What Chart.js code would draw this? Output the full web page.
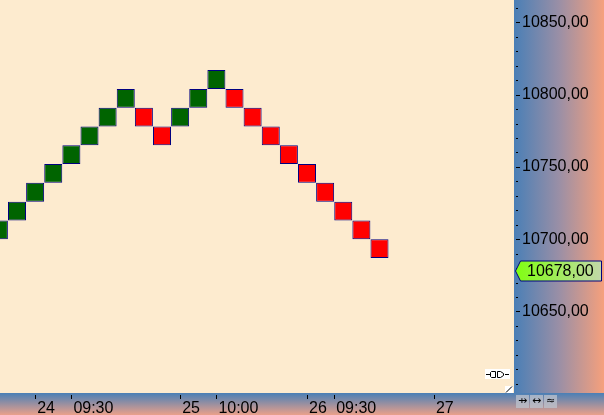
<!DOCTYPE html>
<html lang="pt-BR">
<head>
  <meta charset="UTF-8">
  <title>Renko</title>
  <script src="https://cdn.jsdelivr.net/npm/chart.js"></script>
  <style>
    html, body { margin: 0; padding: 0; background: #fdebcf; }
    .box { width: 604px; height: 415px; position: relative; }
  </style>
</head>
<body>
  <div class="box"><canvas id="renko"></canvas></div>

  <script>
    // tijolos renko (coluna, abertura, fechamento)
    const columns = [1, 2, 3, 4, 5, 6, 7, 8, 9, 10, 11, 12, 13, 14, 15, 16, 17, 18, 19, 20, 21, 22];
    const brickOpen = [10700, 10713, 10726, 10739, 10752, 10765, 10778, 10791, 10791, 10778, 10778,
                       10791, 10804, 10804, 10791, 10778, 10765, 10752, 10739, 10726, 10713, 10700];
    const brickClose = [10713, 10726, 10739, 10752, 10765, 10778, 10791, 10804, 10778, 10765, 10791,
                        10804, 10817, 10791, 10778, 10765, 10752, 10739, 10726, 10713, 10700, 10687];
    const lastPrice = 10678;

    // eixo de tempo
    const timeTickPos = [3, 5, 11, 13, 18, 19.5, 25];
    const timeTickLabels = ['24', '09:30', '25', '10:00', '26', '09:30', '27'];

    // eixo de preço
    const priceMajor = [10650, 10700, 10750, 10800, 10850];
    const priceMinorStep = 10;

    const fmt = v => v.toFixed(2).replace('.', ',');

    const bricks = columns.map((c, i) => ({ x: c, y: [brickOpen[i], brickClose[i]] }));
    const up = i => brickClose[i] > brickOpen[i];

    const noPad = s => { s.paddingLeft = 0; s.paddingRight = 0; s.paddingTop = 0; s.paddingBottom = 0; };

    const background = {
      id: 'background',
      beforeDraw(chart) {
        const { ctx, chartArea: a, width, height } = chart;
        ctx.save();
        ctx.fillStyle = '#fdebcf';
        ctx.fillRect(a.left, a.top, a.right - a.left, a.bottom - a.top);
        let g = ctx.createLinearGradient(a.right, 0, width, 0);
        g.addColorStop(0, '#4a7fb6');
        g.addColorStop(0.5, '#9a8fa6');
        g.addColorStop(1, '#f6a07c');
        ctx.fillStyle = g;
        ctx.fillRect(a.right, 0, width - a.right, a.bottom);
        g = ctx.createLinearGradient(0, a.bottom, 0, height);
        g.addColorStop(0, '#4a7fb6');
        g.addColorStop(1, '#eaa08a');
        ctx.fillStyle = g;
        ctx.fillRect(0, a.bottom, width, height - a.bottom);
        ctx.restore();
      }
    };

    const extras = {
      id: 'extras',
      afterDraw(chart) {
        const { ctx, chartArea: a } = chart;
        const ys = chart.scales.y, xs = chart.scales.x;
        ctx.save();
        ctx.strokeStyle = '#000';
        ctx.lineWidth = 1;
        // marcas do eixo de preço
        ys.ticks.forEach(t => {
          const py = Math.round(ys.getPixelForValue(t.value)) + 0.5;
          const major = priceMajor.includes(t.value);
          ctx.beginPath();
          ctx.moveTo(a.right + 2, py);
          ctx.lineTo(a.right + (major ? 6 : 4), py);
          ctx.stroke();
        });
        // marcas do eixo de tempo
        timeTickPos.forEach(v => {
          const px = Math.round(xs.getPixelForValue(v)) + 0.5;
          ctx.beginPath();
          ctx.moveTo(px, a.bottom + 2);
          ctx.lineTo(px, a.bottom + 6);
          ctx.stroke();
        });

        // etiqueta do último preço
        const py = ys.getPixelForValue(lastPrice);
        const lx = a.right + 1, rx = 601;
        const g = ctx.createLinearGradient(lx, 0, rx, 0);
        g.addColorStop(0, '#80ff10');
        g.addColorStop(1, '#c2d8a8');
        ctx.beginPath();
        ctx.moveTo(lx + 0.5, py);
        ctx.lineTo(lx + 5.5, py - 10);
        ctx.lineTo(rx + 0.5, py - 10);
        ctx.lineTo(rx + 0.5, py + 10);
        ctx.lineTo(lx + 5.5, py + 10);
        ctx.closePath();
        ctx.fillStyle = g;
        ctx.fill();
        ctx.strokeStyle = '#000080';
        ctx.stroke();
        ctx.fillStyle = '#000';
        ctx.font = '16px "Liberation Sans", Arial, sans-serif';
        ctx.textBaseline = 'middle';
        ctx.textAlign = 'left';
        ctx.fillText(fmt(lastPrice), 527, py + 1);

        // ícone de conexão
        ctx.fillStyle = '#fff';
        ctx.fillRect(485, 369, 25, 10);
        ctx.strokeStyle = '#000';
        ctx.beginPath();
        ctx.moveTo(486, 374.5); ctx.lineTo(490, 374.5);
        ctx.moveTo(505, 374.5); ctx.lineTo(509, 374.5);
        ctx.moveTo(495.5, 371.5); ctx.lineTo(491.5, 371.5); ctx.lineTo(490.5, 372.5);
        ctx.lineTo(490.5, 376.5); ctx.lineTo(491.5, 377.5); ctx.lineTo(495.5, 377.5);
        ctx.moveTo(497.5, 371.5); ctx.lineTo(500.5, 371.5); ctx.lineTo(503.5, 373.5);
        ctx.lineTo(503.5, 375.5); ctx.lineTo(500.5, 377.5); ctx.lineTo(497.5, 377.5); ctx.closePath();
        ctx.stroke();
        ctx.beginPath();
        ctx.moveTo(495.5, 371.5); ctx.lineTo(495.5, 377.5);
        ctx.stroke();

        // canto de redimensionar
        ctx.fillStyle = '#fff';
        ctx.fillRect(505, 386, 8, 7);
        ctx.beginPath();
        ctx.moveTo(506, 392.5); ctx.lineTo(512, 386.5);
        ctx.stroke();

        // botões
        const glyphs = ['⇸', '↔', '≈'];
        [516, 530, 544].forEach((bx, i) => {
          ctx.fillStyle = 'rgba(190,195,205,0.75)';
          ctx.fillRect(bx, 395, 13, 13);
          ctx.fillStyle = '#000';
          ctx.font = '11px "DejaVu Sans", sans-serif';
          ctx.textAlign = 'center';
          ctx.textBaseline = 'middle';
          ctx.fillText(glyphs[i], bx + 6.5, 401.5);
        });
        ctx.restore();
      }
    };

    new Chart(document.getElementById('renko'), {
      type: 'bar',
      data: {
        datasets: [{
          data: bricks,
          backgroundColor: ctx => up(ctx.dataIndex) ? '#006400' : '#ff0000',
          borderColor: '#000080',
          borderWidth: 1,
          borderSkipped: false,
          inflateAmount: 0,
          barThickness: 18
        }]
      },
      options: {
        responsive: true,
        maintainAspectRatio: false,
        animation: false,
        layout: { padding: 0 },
        plugins: { legend: { display: false }, tooltip: { enabled: false } },
        scales: {
          x: {
            type: 'linear',
            position: 'bottom',
            offset: false,
            min: 1.062,
            max: 29.42,
            afterFit: s => { s.height = 22; noPad(s); },
            afterBuildTicks: s => { s.ticks = timeTickPos.map(v => ({ value: v })); },
            grid: { display: false, drawTicks: false },
            border: { display: false },
            ticks: {
              autoSkip: false,
              maxRotation: 0,
              align: 'start',
              labelOffset: 2,
              padding: 6,
              color: '#000',
              font: { family: '"Liberation Sans", Arial, sans-serif', size: 16 },
              callback: v => timeTickLabels[timeTickPos.indexOf(v)]
            }
          },
          y: {
            type: 'linear',
            position: 'right',
            min: 10593.6,
            max: 10865.5,
            afterFit: s => { s.width = 90; noPad(s); },
            afterBuildTicks: s => {
              const t = [];
              for (let v = priceMajor[0] - 5 * priceMinorStep; v <= priceMajor[priceMajor.length - 1] + priceMinorStep; v += priceMinorStep) t.push({ value: v });
              s.ticks = t;
            },
            grid: { display: false, drawTicks: false },
            border: { display: false },
            ticks: {
              autoSkip: false,
              padding: 8,
              color: '#000',
              font: { family: '"Liberation Sans", Arial, sans-serif', size: 16 },
              callback: v => priceMajor.includes(v) ? fmt(v) : ''
            }
          }
        }
      },
      plugins: [background, extras]
    });
  </script>
</body>
</html>
